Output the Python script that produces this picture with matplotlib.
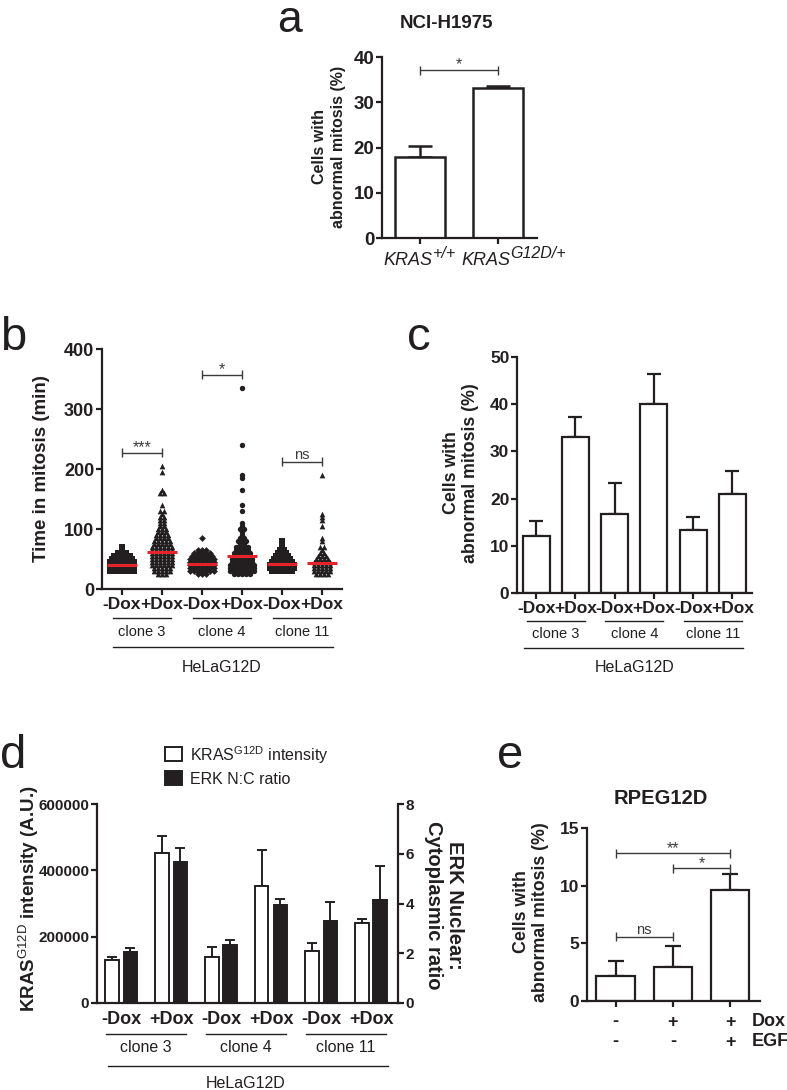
import numpy as np
import matplotlib
matplotlib.use('Agg')
import matplotlib.pyplot as plt
from matplotlib.lines import Line2D
from matplotlib.patches import Rectangle

plt.rcParams['font.family'] = ['Liberation Sans', 'DejaVu Sans']
plt.rcParams['mathtext.fontset'] = 'custom'
plt.rcParams['mathtext.rm'] = 'Liberation Sans'
plt.rcParams['mathtext.it'] = 'Liberation Sans:italic'
plt.rcParams['mathtext.bf'] = 'Liberation Sans:bold'

# ---------------- data ----------------
a_title = 'NCI-H1975'
a_genes = ['KRAS', 'KRAS']
a_genotypes = ['+/+', 'G12D/+']
a_values = [18.0, 33.1]
a_errors = [2.3, 0.4]
a_yticks = [0, 10, 20, 30, 40]

conditions = ['-Dox', '+Dox', '-Dox', '+Dox', '-Dox', '+Dox']
clones = ['clone 3', 'clone 4', 'clone 11']
cell_line = 'HeLaG12D'

b_c3_minus = [70,
              60, 60, 60,
              55, 55, 55, 55, 55,
              50, 50, 50, 50, 50, 50,
              45, 45, 45, 45, 45, 45, 45,
              40, 40, 40, 40, 40, 40, 40,
              35, 35, 35, 35, 35, 35, 35,
              30, 30, 30, 30, 30, 30, 30]
b_c3_plus = [205, 195, 165, 160, 160, 140, 130, 130, 125, 120, 120, 115, 115, 110, 110, 105, 105,
             100, 100, 100, 95, 95, 95, 90, 90, 90, 90, 85, 85, 85, 85,
             80, 80, 80, 80, 80, 75, 75, 75, 75, 75,
             70, 70, 70, 70, 70, 70, 65, 65, 65, 65, 65, 65,
             60, 60, 60, 60, 60, 60, 55, 55, 55, 55, 55, 55,
             50, 50, 50, 50, 50, 50, 45, 45, 45, 45, 45, 45,
             40, 40, 40, 40, 40, 40, 35, 35, 35, 35, 35,
             30, 30, 30, 30, 30, 25, 25, 25]
b_c4_minus = [85,
              65, 65, 65,
              60, 60, 60, 60, 60,
              55, 55, 55, 55, 55, 55,
              50, 50, 50, 50, 50, 50, 50,
              45, 45, 45, 45, 45, 45, 45,
              40, 40, 40, 40, 40, 40, 40,
              35, 35, 35, 35, 35, 35, 35,
              30, 30, 30, 30, 30, 30, 30,
              25, 25, 25]
b_c4_plus = [335, 240, 190, 185, 165, 140, 130, 110, 105, 100, 100, 95, 90, 85, 85,
             80, 80, 80, 75, 75, 70, 70, 70, 70, 65, 65, 65, 65,
             60, 60, 60, 60, 60, 55, 55, 55, 55, 55,
             50, 50, 50, 50, 50, 50, 45, 45, 45, 45, 45, 45,
             40, 40, 40, 40, 40, 40, 40, 35, 35, 35, 35, 35, 35, 35,
             30, 30, 30, 30, 30, 30, 30, 25, 25, 25, 25, 25]
b_c11_minus = [80, 75, 65, 65,
               60, 60, 60, 55, 55, 55, 55,
               50, 50, 50, 50, 50, 45, 45, 45, 45, 45, 45,
               40, 40, 40, 40, 40, 40, 40, 35, 35, 35, 35, 35, 35, 35,
               30, 30, 30, 30, 30, 30]
b_c11_plus = [190, 125, 120, 115, 105, 85, 80, 70, 70, 65, 60, 60,
              55, 55, 55, 50, 50, 50, 50, 45, 45, 45, 45, 45,
              40, 40, 40, 40, 40, 35, 35, 35, 35, 35,
              30, 30, 30, 30, 30, 25, 25, 25, 25]
b_medians = [40, 61, 42, 55, 42, 43]
b_yticks = [0, 100, 200, 300, 400]

c_values = [12.1, 33.0, 16.8, 40.1, 13.4, 21.0]
c_errors = [3.1, 4.2, 6.4, 6.3, 2.8, 4.8]
c_yticks = [0, 10, 20, 30, 40, 50]

d_kras = [130000, 453000, 140000, 353000, 158000, 240000]
d_kras_err = [8000, 52000, 30000, 107000, 23000, 12000]
d_erk = [2.05, 5.67, 2.33, 3.93, 3.30, 4.15]
d_erk_err = [0.15, 0.55, 0.22, 0.27, 0.75, 1.37]
d_left_ticks = [0, 200000, 400000, 600000]
d_right_ticks = [0, 2, 4, 6, 8]
d_legend = [r'KRAS$^{\mathrm{G12D}}$ intensity', 'ERK N:C ratio']

e_title = 'RPEG12D'
e_values = [2.2, 2.95, 9.6]
e_errors = [1.3, 1.8, 1.45]
e_dox = ['-', '+', '+']
e_egf = ['-', '-', '+']
e_yticks = [0, 5, 10, 15]

# ---------------- layout helpers ----------------
W, H = 787, 1090
INK = '#231f20'
GRAY = '#3a3a3a'
RED = '#e52329'
fig = plt.figure(figsize=(W / 100, H / 100), dpi=100)
renderer = fig.canvas.get_renderer()


def fx(px):
    return px / W


def fy(py):
    return 1 - py / H


def ax_at(box):
    x0, y0, x1, y1 = box
    return fig.add_axes([fx(x0), fy(y1), (x1 - x0) / W, (y1 - y0) / H])


def ftext(px, py, s, **kw):
    kw.setdefault('ha', 'center')
    kw.setdefault('va', 'center')
    kw.setdefault('color', INK)
    return fig.text(fx(px), fy(py), s, **kw)


def fline(x0, x1, py, lw=1.0, color=INK):
    fig.add_artist(Line2D([fx(x0), fx(x1)], [fy(py), fy(py)],
                          transform=fig.transFigure, lw=lw, color=color))


def xpx(box, xlim, x):
    return box[0] + (x - xlim[0]) / (xlim[1] - xlim[0]) * (box[2] - box[0])


def style(ax, keep_right=False):
    ax.spines['top'].set_visible(False)
    if not keep_right:
        ax.spines['right'].set_visible(False)
    for s in ax.spines.values():
        s.set_linewidth(1.6)
        s.set_color(INK)
    ax.tick_params(direction='out', length=4, width=1.6, colors=INK, pad=1.5)
    ax.set_facecolor('none')


def bracket(ax, x0, x1, y, text, fs=11.5, tick_px=4.5, pad_px=0.5):
    ymin, ymax = ax.get_ylim()
    hpx = ax.get_position().height * H
    d = (ymax - ymin) * tick_px / hpx
    p = (ymax - ymin) * pad_px / hpx
    kw = dict(color=GRAY, lw=1.0, clip_on=False, solid_capstyle='butt')
    ax.plot([x0, x1], [y, y], **kw)
    ax.plot([x0, x0], [y - d, y + d], **kw)
    ax.plot([x1, x1], [y - d, y + d], **kw)
    ax.text((x0 + x1) / 2, y + p, text, ha='center', va='baseline',
            fontsize=fs, color=GRAY)


def swarm_x(center, values, dx):
    values = np.asarray(values)
    xs = np.empty(len(values), dtype=float)
    for v in np.unique(values):
        idx = np.where(values == v)[0]
        n = len(idx)
        xs[idx] = center + (np.arange(n) - (n - 1) / 2) * dx
    return xs


def bars_with_err(ax, x, vals, errs, width, capsize, face='white', lw=1.6):
    n = len(vals)
    ax.errorbar(x, vals, yerr=[np.zeros(n), errs], fmt='none', ecolor=INK,
                elinewidth=lw, capsize=capsize, capthick=lw, zorder=1)
    ax.bar(x, vals, width=width, facecolor=face, edgecolor=INK, linewidth=lw, zorder=2)


# ---------------- panel a ----------------
box_a = (382, 57, 537, 238)
xlim_a = (-0.49, 1.5)
ax = ax_at(box_a)
style(ax)
ax.set_xlim(*xlim_a)
ax.set_ylim(0, 40)
bars_with_err(ax, np.arange(2), a_values, a_errors, 0.65, 8.5, lw=1.8)
ax.set_yticks(a_yticks, labels=[str(t) for t in a_yticks], fontweight='bold', fontsize=13.5)
ax.set_xticks(np.arange(2), labels=['', ''])
for i, (gene, gt) in enumerate(zip(a_genes, a_genotypes)):
    left = xpx(box_a, xlim_a, i) - 37
    t1 = ftext(left, 265, gene, fontsize=13, style='italic', ha='left', va='baseline')
    w1 = t1.get_window_extent(renderer).width
    ftext(left + w1 + 0.5, 258, gt, fontsize=11.5, style='italic', ha='left', va='baseline')
bracket(ax, 0, 1, 37.1, '*')
ftext(329, 147, 'Cells with\nabnormal mitosis (%)', rotation=90, fontsize=11.5,
      fontweight='bold', linespacing=1.3, multialignment='center')
ftext(447, 24, a_title, fontsize=13.5, fontweight='bold')
ftext(277, 0.5, 'a', fontsize=32, ha='left', va='top')

# ---------------- panel b ----------------
box_b = (102, 349, 342, 589)
xlim_b = (-0.5, 5.5)
ax = ax_at(box_b)
style(ax)
ax.set_xlim(*xlim_b)
ax.set_ylim(0, 400)
b_groups = [b_c3_minus, b_c3_plus, b_c4_minus, b_c4_plus, b_c11_minus, b_c11_plus]
b_marks = ['s', '^', 'D', 'o', 's', '^']
b_sizes = [14, 17, 12, 15, 14, 17]
for i, (vals, m, s) in enumerate(zip(b_groups, b_marks, b_sizes)):
    ax.scatter(swarm_x(i, vals, 0.1), vals, marker=m, s=s, color=INK,
               linewidths=0, zorder=3, clip_on=False)
    ax.hlines(b_medians[i], i - 0.38, i + 0.38, color=RED, lw=2.2, zorder=4)
ax.set_yticks(b_yticks, labels=[str(t) for t in b_yticks], fontweight='bold', fontsize=13)
ax.set_xticks(np.arange(6), labels=conditions, fontweight='bold', fontsize=12.5)
bracket(ax, 0, 1, 227, '***')
bracket(ax, 2, 3, 357, '*')
bracket(ax, 4, 5, 212, 'ns', fs=10.5, pad_px=3)
ftext(42, 469, 'Time in mitosis (min)', rotation=90, fontsize=13.5, fontweight='bold')
for k, name in enumerate(clones):
    c = xpx(box_b, xlim_b, 2 * k + 0.5)
    fline(c - 29, c + 29, 618)
    ftext(c, 632, name, fontsize=10.5)
fline(113, 333, 647)
ftext(xpx(box_b, xlim_b, 2.5), 667, cell_line, fontsize=11.5)
ftext(0, 350, 'b', fontsize=34, ha='left', va='baseline')

# ---------------- panel c ----------------
box_c = (517, 357, 752, 593)
xlim_c = (-0.49, 5.5)
ax = ax_at(box_c)
style(ax)
ax.set_xlim(*xlim_c)
ax.set_ylim(0, 50)
bars_with_err(ax, np.arange(6), c_values, c_errors, 0.69, 5)
ax.set_yticks(c_yticks, labels=[str(t) for t in c_yticks], fontweight='bold', fontsize=12.5)
ax.set_xticks(np.arange(6), labels=conditions, fontweight='bold', fontsize=12.5)
ftext(461, 473, 'Cells with\nabnormal mitosis (%)', rotation=90, fontsize=12.8,
      fontweight='bold', linespacing=1.2, multialignment='center')
for k, name in enumerate(clones):
    c = xpx(box_c, xlim_c, 2 * k + 0.5)
    fline(c - 29, c + 29, 621)
    ftext(c, 634, name, fontsize=10.5)
fline(524, 743, 648)
ftext(xpx(box_c, xlim_c, 2.5), 667, cell_line, fontsize=11.5)
ftext(407, 350, 'c', fontsize=34, ha='left', va='baseline')

# ---------------- panel d ----------------
box_d = (97, 804, 398, 1003)
xlim_d = (-0.48, 5.54)
ax = ax_at(box_d)
style(ax)
ax.set_xlim(*xlim_d)
ax.set_ylim(0, 600000)
pos = np.arange(6)
bars_with_err(ax, pos - 0.185, d_kras, d_kras_err, 0.27, 3.5, lw=1.4)
ax.set_yticks(d_left_ticks, labels=[str(t) for t in d_left_ticks], fontweight='bold', fontsize=11)
ax.set_xticks(pos, labels=conditions, fontweight='bold', fontsize=13)
ax.tick_params(axis='x', length=0, pad=6)
ax2 = ax.twinx()
ax2.set_position(ax.get_position())
style(ax2, keep_right=True)
ax2.spines['left'].set_visible(False)
ax2.spines['bottom'].set_visible(False)
ax2.set_xlim(*xlim_d)
ax2.set_ylim(0, 8)
bars_with_err(ax2, pos + 0.185, d_erk, d_erk_err, 0.27, 3.5, face=INK, lw=1.4)
ax2.set_yticks(d_right_ticks, labels=[str(t) for t in d_right_ticks], fontweight='bold', fontsize=11)
ftext(29, 899, r'KRAS$^{\mathrm{G12D}}$ intensity (A.U.)', rotation=90, fontsize=13.5, fontweight='bold')
ftext(444, 905, 'ERK Nuclear:\nCytoplasmic ratio', rotation=270, fontsize=14.5,
      fontweight='bold', linespacing=1.1, multialignment='center')
for k, name in enumerate(clones):
    c = xpx(box_d, xlim_d, 2 * k + 0.5)
    fline(c - 40, c + 40, 1034)
    ftext(c, 1048, name, fontsize=11.5)
fline(108, 388, 1066)
ftext(xpx(box_d, xlim_d, 2.5), 1084, cell_line, fontsize=11.5)
for k, (lab, face) in enumerate(zip(d_legend, ['white', INK])):
    y0 = 747 + 24 * k
    fig.add_artist(Rectangle((fx(165), fy(y0 + 14)), 17 / W, 14 / H, transform=fig.transFigure,
                             facecolor=face, edgecolor=INK, linewidth=1.4))
    ftext(190, y0 + 8, lab, fontsize=11.5, ha='left')
ftext(0, 768, 'd', fontsize=34, ha='left', va='baseline')

# ---------------- panel e ----------------
box_e = (587, 828, 760, 1001)
xlim_e = (-0.5, 2.52)
ax = ax_at(box_e)
style(ax)
ax.set_xlim(*xlim_e)
ax.set_ylim(0, 15)
bars_with_err(ax, np.arange(3), e_values, e_errors, 0.67, 6)
ax.set_yticks(e_yticks, labels=[str(t) for t in e_yticks], fontweight='bold', fontsize=12.5)
ax.set_xticks(np.arange(3), labels=['', '', ''])
bracket(ax, 0, 2, 12.8, '**')
bracket(ax, 1, 2, 11.5, '*')
bracket(ax, 0, 1, 5.55, 'ns', fs=10.5, pad_px=3)
for k in range(3):
    c = xpx(box_e, xlim_e, k)
    ftext(c, 1022, e_dox[k], fontsize=13, fontweight='bold')
    ftext(c, 1042, e_egf[k], fontsize=13, fontweight='bold')
ftext(752, 1022, 'Dox', fontsize=13, fontweight='bold', ha='left')
ftext(752, 1042, 'EGF', fontsize=13, fontweight='bold', ha='left')
ftext(531, 912, 'Cells with\nabnormal mitosis (%)', rotation=90, fontsize=12.8,
      fontweight='bold', linespacing=1.15, multialignment='center')
ftext(661, 798, e_title, fontsize=14.5, fontweight='bold')
ftext(497, 768, 'e', fontsize=34, ha='left', va='baseline')

fig.savefig('out.png', dpi=100)
